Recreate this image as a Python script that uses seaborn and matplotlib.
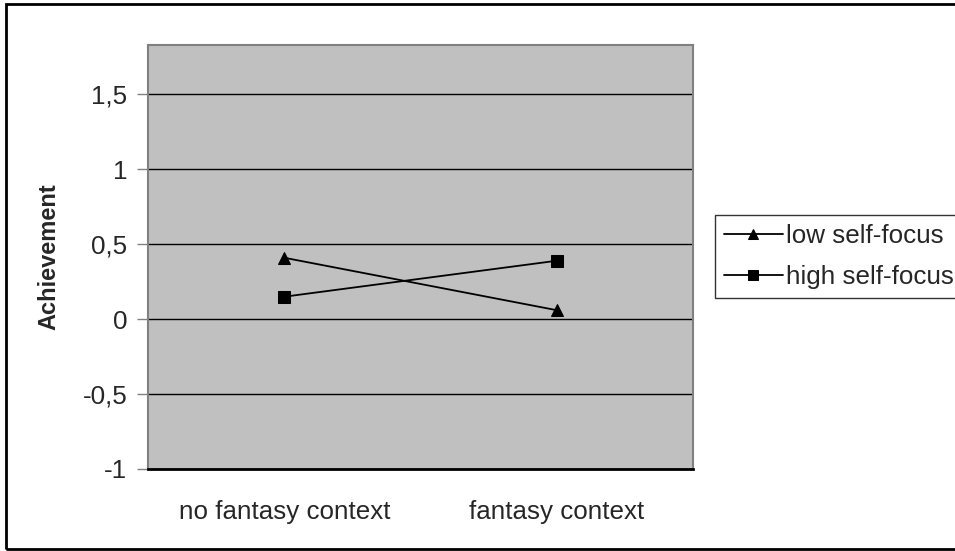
import matplotlib.pyplot as plt
import matplotlib.patches as mpatches
import pandas as pd
import seaborn as sb

# data
contexts = ["no fantasy context", "fantasy context"]
low_self_focus = [0.41, 0.06]
high_self_focus = [0.15, 0.39]
series_names = ["low self-focus", "high self-focus"]
y_ticks = [-1, -0.5, 0, 0.5, 1, 1.5]
y_tick_labels = ["-1", "-0,5", "0", "0,5", "1", "1,5"]

df = pd.DataFrame({
    "context": contexts * 2,
    "achievement": low_self_focus + high_self_focus,
    "group": [series_names[0]] * 2 + [series_names[1]] * 2,
})

sb.set_style("white")
plt.rcParams["font.family"] = ["Liberation Sans", "DejaVu Sans"]
fs = 18.7

fig = plt.figure(figsize=(9.55, 5.51), dpi=100)
ax = fig.add_axes([148 / 955, 1 - 469 / 551, (693 - 148) / 955, (469 - 45) / 551])
ax.set_facecolor("#c0c0c0")

sb.lineplot(
    data=df, x="context", y="achievement", style="group",
    markers={series_names[0]: "^", series_names[1]: "s"},
    dashes=False, color="black", linewidth=1.3, markersize=9,
    markeredgecolor="black", ax=ax,
)

ax.set_xlim(-0.5, 1.5)
ax.set_ylim(-1, 1.83)
ax.set_yticks(y_ticks)
ax.set_yticklabels(y_tick_labels)
ax.yaxis.grid(True, color="black", linewidth=1)
ax.set_axisbelow(True)

# category labels centred, tick marks between categories
ax.set_xticks([0, 1])
ax.set_xticklabels(contexts)
ax.set_xticks([-0.5, 0.5, 1.5], minor=True)
ax.tick_params(axis="x", which="major", length=0, pad=22, labelsize=fs)
ax.tick_params(axis="x", which="minor", length=8, width=1.5, color="#808080", direction="out")
ax.tick_params(axis="y", length=8, width=1, color="#808080", direction="out", labelsize=fs, pad=7, left=True)

ax.set_xlabel("")
ax.set_ylabel("Achievement", fontsize=17, fontweight="bold", labelpad=16)

for side in ["top", "right", "left"]:
    ax.spines[side].set_color("#808080")
    ax.spines[side].set_linewidth(1.5)
ax.spines["bottom"].set_color("black")
ax.spines["bottom"].set_linewidth(2)

handles, labels = ax.get_legend_handles_labels()
if ax.get_legend():
    ax.get_legend().remove()
leg = fig.legend(
    handles, labels, loc="upper left",
    bbox_to_anchor=(715 / 955, 1 - 215 / 551), bbox_transform=fig.transFigure,
    fontsize=fs, frameon=True, fancybox=False, edgecolor="black",
    handlelength=2.25, handletextpad=0.12, borderpad=0.35, labelspacing=0.65,
    borderaxespad=0,
)
leg.get_frame().set_linewidth(1)
for h in leg.legend_handles:
    h.set_markersize(7)

# outer chart border
fig.patches.append(mpatches.Rectangle(
    (6 / 955, 1 - 549 / 551), 1, (549 - 4) / 551,
    transform=fig.transFigure, fill=False, edgecolor="black", linewidth=2))

fig.savefig("out.png", dpi=100)
